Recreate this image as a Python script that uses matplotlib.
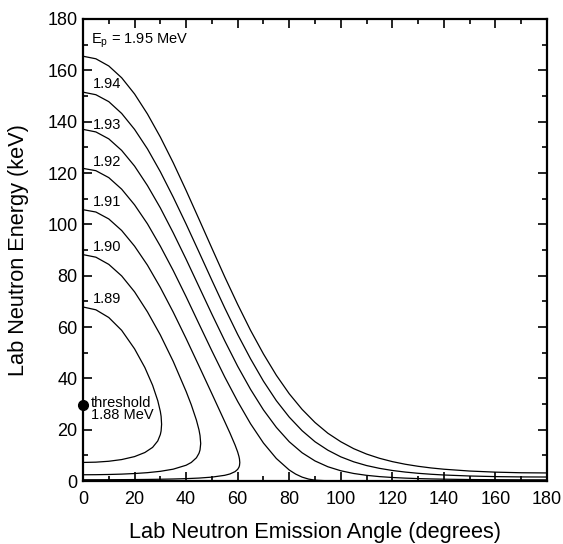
import matplotlib
matplotlib.use("Agg")
import matplotlib.pyplot as plt
from matplotlib.ticker import MultipleLocator

plt.rcParams['font.family'] = ['Liberation Sans', 'DejaVu Sans']

# ---- data (angle in degrees, energy in keV) ----
ang_single = [0, 5, 10, 15, 20, 25, 30, 35, 40, 45, 50, 55, 60, 65, 70, 75, 80, 85, 90,
              95, 100, 105, 110, 115, 120, 125, 130, 135, 140, 150, 160, 170, 180]
E_195 = [165.5, 164.5, 161.7, 157.1, 150.8, 143.0, 134.0, 124.0, 113.2, 102.0, 90.7,
         79.5, 68.8, 58.7, 49.5, 41.2, 34.0, 27.9, 22.8, 18.6, 15.3, 12.6, 10.5, 8.85,
         7.55, 6.53, 5.73, 5.09, 4.59, 3.88, 3.45, 3.21, 3.14]
E_194 = [151.5, 150.5, 147.8, 143.2, 137.0, 129.4, 120.5, 110.6, 100.1, 89.2, 78.2,
         67.4, 57.1, 47.6, 38.9, 31.3, 24.9, 19.6, 15.3, 12.0, 9.41, 7.48, 6.02, 4.93,
         4.10, 3.48, 3.00, 2.63, 2.34, 1.95, 1.71, 1.59, 1.55]
E_193 = [137.0, 136.0, 133.3, 128.8, 122.7, 115.1, 106.4, 96.7, 86.4, 75.7, 65.0,
         54.6, 44.7, 35.7, 27.7, 20.9, 15.3, 11.0, 7.82, 5.55, 3.99, 2.93, 2.21, 1.71,
         1.37, 1.12, 0.94, 0.81, 0.71, 0.57, 0.50, 0.46, 0.45]

ang_192 = [0, 5, 10, 15, 20, 25, 30, 35, 40, 45, 50, 55, 60, 65, 70, 75, 80, 82.5, 85,
           87.5, 90, 95, 100, 120, 140, 160, 180]
E_192 = [121.8, 120.9, 118.2, 113.7, 107.6, 100.2, 91.5, 82.0, 71.8, 61.2, 50.7, 40.5,
         31.0, 22.3, 14.8, 8.77, 4.29, 2.69, 1.51, 0.75, 0.33, 0.07, 0.03, 0.0, 0.0, 0.0, 0.0]

ang_191 = [0, 5, 10, 15, 20, 25, 30, 35, 40, 45, 50, 55, 57, 59, 60, 60.5, 60.7, 60.83]
E_191_up = [105.7, 104.8, 102.1, 97.6, 91.5, 84.1, 75.4, 65.8, 55.5, 44.8, 34.0, 23.1,
            18.7, 14.0, 11.3, 9.55, 8.59, 7.16]
E_191_lo = [0.48, 0.49, 0.50, 0.53, 0.56, 0.61, 0.68, 0.78, 0.92, 1.14, 1.51, 2.22,
            2.74, 3.66, 4.54, 5.37, 5.97]

ang_190 = [0, 5, 10, 15, 20, 25, 30, 35, 40, 42, 44, 45, 45.4, 45.66]
E_190_up = [88.2, 87.2, 84.4, 79.9, 73.7, 65.9, 56.9, 46.6, 34.9, 29.7, 23.7, 19.9,
            17.7, 14.6]
E_190_lo = [2.43, 2.46, 2.54, 2.68, 2.91, 3.25, 3.77, 4.61, 6.14, 7.22, 9.05, 10.8, 12.1]

ang_189 = [0, 5, 10, 15, 20, 24, 27, 29, 30, 30.3, 30.49]
E_189_up = [67.8, 66.7, 63.7, 58.7, 51.5, 44.2, 37.3, 31.3, 27.1, 25.2, 22.1]
E_189_lo = [7.23, 7.34, 7.69, 8.35, 9.51, 11.1, 13.1, 15.6, 18.1, 19.5]

threshold_angle = 0
threshold_E = 29.7

labels = ["1.94", "1.93", "1.92", "1.91", "1.90", "1.89"]
label_y = [154.5, 138.6, 124.4, 108.7, 91.1, 70.8]

# ---- figure ----
fig = plt.figure(figsize=(5.63, 5.44), dpi=100)
ax = fig.add_axes([83/563, 1-481/544, (547-83)/563, (481-19)/544])

lw = 0.9
for E in (E_195, E_194, E_193):
    ax.plot(ang_single, E, color='black', lw=lw)
ax.plot(ang_192, E_192, color='black', lw=lw)

def loop(ang, up, lo):
    xs = list(ang) + list(ang[:len(lo)])[::-1]
    ys = list(up) + list(lo)[::-1]
    return xs, ys

for a, up, lo in ((ang_191, E_191_up, E_191_lo),
                  (ang_190, E_190_up, E_190_lo),
                  (ang_189, E_189_up, E_189_lo)):
    xs, ys = loop(a, up, lo)
    ax.plot(xs, ys, color='black', lw=lw)

ax.plot([threshold_angle], [threshold_E], marker='o', ms=7, color='black',
        clip_on=False, zorder=5)

ax.set_xlim(0, 180)
ax.set_ylim(0, 180)
ax.xaxis.set_major_locator(MultipleLocator(20))
ax.xaxis.set_minor_locator(MultipleLocator(10))
ax.yaxis.set_major_locator(MultipleLocator(20))
ax.yaxis.set_minor_locator(MultipleLocator(10))
ax.tick_params(which='both', direction='in', top=True, right=True, width=1.2,
               labelsize=13)
ax.tick_params(axis='x', pad=7)
ax.tick_params(axis='y', pad=4)
ax.tick_params(which='major', length=6.5)
ax.tick_params(which='minor', length=3.5)
for s in ax.spines.values():
    s.set_linewidth(1.6)

ax.set_xlabel("Lab Neutron Emission Angle (degrees)", fontsize=15.7)
ax.set_ylabel("Lab Neutron Energy (keV)", fontsize=15.7)
ax.xaxis.set_label_coords(0.5, -0.089)
ax.yaxis.set_label_coords(-0.116, 0.5)

fs = 10.5
ax.text(3.2, 171.4, r"E$_\mathregular{p}$ = 1.95 MeV", fontsize=fs, va='center', ha='left')
for t, y in zip(labels, label_y):
    ax.text(4.0, y, t, fontsize=fs, va='center', ha='left')
ax.text(3.0, 30.5, "threshold", fontsize=fs, va='center', ha='left')
ax.text(3.0, 25.6, "1.88 MeV", fontsize=fs, va='center', ha='left')

fig.savefig("out.png", dpi=100)
